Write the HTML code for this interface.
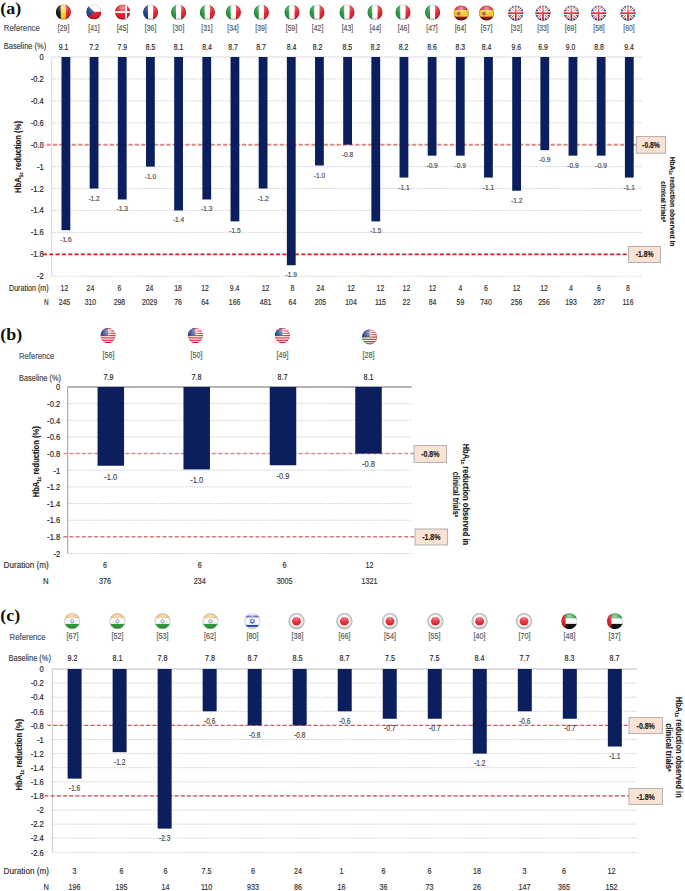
<!DOCTYPE html>
<html><head><meta charset="utf-8"><title>HbA1c reduction</title>
<style>
html,body{margin:0;padding:0;background:#fff;}
body{width:685px;height:891px;overflow:hidden;}
svg{display:block;font-family:"Liberation Sans", sans-serif;}
</style></head><body>
<svg width="685" height="891" viewBox="0 0 685 891">
<defs><radialGradient id="gloss" cx="0.5" cy="0.2" r="0.75"><stop offset="0" stop-color="#fff" stop-opacity="0.55"/><stop offset="0.45" stop-color="#fff" stop-opacity="0.12"/><stop offset="0.8" stop-color="#000" stop-opacity="0"/><stop offset="1" stop-color="#000" stop-opacity="0.18"/></radialGradient>
<clipPath id="c1"><circle cx="63.4" cy="12.1" r="7.6"/></clipPath>
<clipPath id="c2"><circle cx="93.9" cy="11.8" r="7.6"/></clipPath>
<clipPath id="c3"><circle cx="122.6" cy="12.1" r="7.6"/></clipPath>
<clipPath id="c4"><circle cx="150.6" cy="12.3" r="7.6"/></clipPath>
<clipPath id="c5"><circle cx="178.6" cy="12.4" r="7.6"/></clipPath>
<clipPath id="c6"><circle cx="207.4" cy="12.4" r="7.6"/></clipPath>
<clipPath id="c7"><circle cx="233.4" cy="12.4" r="7.6"/></clipPath>
<clipPath id="c8"><circle cx="261.4" cy="12.4" r="7.6"/></clipPath>
<clipPath id="c9"><circle cx="292" cy="12.4" r="7.6"/></clipPath>
<clipPath id="c10"><circle cx="317" cy="12.4" r="7.6"/></clipPath>
<clipPath id="c11"><circle cx="347" cy="12.4" r="7.6"/></clipPath>
<clipPath id="c12"><circle cx="375" cy="12.4" r="7.6"/></clipPath>
<clipPath id="c13"><circle cx="403" cy="12.4" r="7.6"/></clipPath>
<clipPath id="c14"><circle cx="432.6" cy="12.4" r="7.6"/></clipPath>
<clipPath id="c15"><circle cx="461.2" cy="13" r="7.6"/></clipPath>
<clipPath id="c16"><circle cx="486.6" cy="13" r="7.6"/></clipPath>
<clipPath id="c17"><circle cx="515.8" cy="13.2" r="7.6"/></clipPath>
<clipPath id="c18"><circle cx="543" cy="13.2" r="7.6"/></clipPath>
<clipPath id="c19"><circle cx="571.4" cy="13.2" r="7.6"/></clipPath>
<clipPath id="c20"><circle cx="598.6" cy="13.2" r="7.6"/></clipPath>
<clipPath id="c21"><circle cx="628" cy="13.2" r="7.6"/></clipPath>
<clipPath id="c22"><circle cx="108.1" cy="335.6" r="7.6"/></clipPath>
<clipPath id="c23"><circle cx="195.4" cy="335.6" r="7.6"/></clipPath>
<clipPath id="c24"><circle cx="282.4" cy="335.6" r="7.6"/></clipPath>
<clipPath id="c25"><circle cx="369.6" cy="337" r="7.6"/></clipPath>
<clipPath id="c26"><circle cx="72.1" cy="621.2" r="8"/></clipPath>
<clipPath id="c27"><circle cx="117.4" cy="621.2" r="8"/></clipPath>
<clipPath id="c28"><circle cx="162.6" cy="621.2" r="8"/></clipPath>
<clipPath id="c29"><circle cx="210.4" cy="621.2" r="8"/></clipPath>
<clipPath id="c30"><circle cx="252.3" cy="621.2" r="8"/></clipPath>
<clipPath id="c31"><circle cx="296.5" cy="621.2" r="8"/></clipPath>
<clipPath id="c32"><circle cx="344.4" cy="621.2" r="8"/></clipPath>
<clipPath id="c33"><circle cx="390" cy="621.2" r="8"/></clipPath>
<clipPath id="c34"><circle cx="435.4" cy="621.2" r="8"/></clipPath>
<clipPath id="c35"><circle cx="479.6" cy="621.2" r="8"/></clipPath>
<clipPath id="c36"><circle cx="524" cy="621.2" r="8"/></clipPath>
<clipPath id="c37"><circle cx="569.3" cy="621.2" r="8"/></clipPath>
<clipPath id="c38"><circle cx="615" cy="621.2" r="8"/></clipPath></defs>
<rect width="685" height="891" fill="#fff"/>
<text transform="translate(0.3 14.2) scale(1 0.9)" font-family='&quot;Liberation Serif&quot;, serif' font-size="18" font-weight="bold" fill="#111">(a)</text>
<g clip-path="url(#c1)"><rect x="55.8" y="4.5" width="5.07" height="15.2" fill="#1a1a1a"/><rect x="60.87" y="4.5" width="5.07" height="15.2" fill="#f5d31c"/><rect x="65.93" y="4.5" width="5.07" height="15.2" fill="#e3232c"/><circle cx="63.4" cy="12.1" r="7.6" fill="url(#gloss)"/></g><circle cx="63.4" cy="12.1" r="7.2" fill="none" stroke="rgba(0,0,0,0.18)" stroke-width="0.7"/>
<g clip-path="url(#c2)"><rect x="86.3" y="4.2" width="15.2" height="7.6" fill="#ffffff"/><rect x="86.3" y="11.8" width="15.2" height="7.6" fill="#d9202a"/><polygon points="86.3,4.2 94.4,11.8 86.3,19.4" fill="#23478f"/><circle cx="93.9" cy="11.8" r="7.6" fill="url(#gloss)"/></g><circle cx="93.9" cy="11.8" r="7.2" fill="none" stroke="rgba(0,0,0,0.18)" stroke-width="0.7"/>
<g clip-path="url(#c3)"><rect x="115" y="4.5" width="15.2" height="15.2" fill="#e0202a"/><rect x="115" y="11.2" width="15.2" height="1.8" fill="#ffffff"/><rect x="125.2" y="4.5" width="1.8" height="15.2" fill="#ffffff"/><circle cx="122.6" cy="12.1" r="7.6" fill="url(#gloss)"/></g><circle cx="122.6" cy="12.1" r="7.2" fill="none" stroke="rgba(0,0,0,0.18)" stroke-width="0.7"/>
<g clip-path="url(#c4)"><rect x="143" y="4.7" width="5.07" height="15.2" fill="#1f3f9a"/><rect x="148.07" y="4.7" width="5.07" height="15.2" fill="#ffffff"/><rect x="153.13" y="4.7" width="5.07" height="15.2" fill="#e3232c"/><circle cx="150.6" cy="12.3" r="7.6" fill="url(#gloss)"/></g><circle cx="150.6" cy="12.3" r="7.2" fill="none" stroke="rgba(0,0,0,0.18)" stroke-width="0.7"/>
<g clip-path="url(#c5)"><rect x="171" y="4.8" width="5.07" height="15.2" fill="#2a9a44"/><rect x="176.07" y="4.8" width="5.07" height="15.2" fill="#ffffff"/><rect x="181.13" y="4.8" width="5.07" height="15.2" fill="#df2530"/><circle cx="178.6" cy="12.4" r="7.6" fill="url(#gloss)"/></g><circle cx="178.6" cy="12.4" r="7.2" fill="none" stroke="rgba(0,0,0,0.18)" stroke-width="0.7"/>
<g clip-path="url(#c6)"><rect x="199.8" y="4.8" width="5.07" height="15.2" fill="#2a9a44"/><rect x="204.87" y="4.8" width="5.07" height="15.2" fill="#ffffff"/><rect x="209.93" y="4.8" width="5.07" height="15.2" fill="#df2530"/><circle cx="207.4" cy="12.4" r="7.6" fill="url(#gloss)"/></g><circle cx="207.4" cy="12.4" r="7.2" fill="none" stroke="rgba(0,0,0,0.18)" stroke-width="0.7"/>
<g clip-path="url(#c7)"><rect x="225.8" y="4.8" width="5.07" height="15.2" fill="#2a9a44"/><rect x="230.87" y="4.8" width="5.07" height="15.2" fill="#ffffff"/><rect x="235.93" y="4.8" width="5.07" height="15.2" fill="#df2530"/><circle cx="233.4" cy="12.4" r="7.6" fill="url(#gloss)"/></g><circle cx="233.4" cy="12.4" r="7.2" fill="none" stroke="rgba(0,0,0,0.18)" stroke-width="0.7"/>
<g clip-path="url(#c8)"><rect x="253.8" y="4.8" width="5.07" height="15.2" fill="#2a9a44"/><rect x="258.87" y="4.8" width="5.07" height="15.2" fill="#ffffff"/><rect x="263.93" y="4.8" width="5.07" height="15.2" fill="#df2530"/><circle cx="261.4" cy="12.4" r="7.6" fill="url(#gloss)"/></g><circle cx="261.4" cy="12.4" r="7.2" fill="none" stroke="rgba(0,0,0,0.18)" stroke-width="0.7"/>
<g clip-path="url(#c9)"><rect x="284.4" y="4.8" width="5.07" height="15.2" fill="#2a9a44"/><rect x="289.47" y="4.8" width="5.07" height="15.2" fill="#ffffff"/><rect x="294.53" y="4.8" width="5.07" height="15.2" fill="#df2530"/><circle cx="292" cy="12.4" r="7.6" fill="url(#gloss)"/></g><circle cx="292" cy="12.4" r="7.2" fill="none" stroke="rgba(0,0,0,0.18)" stroke-width="0.7"/>
<g clip-path="url(#c10)"><rect x="309.4" y="4.8" width="5.07" height="15.2" fill="#2a9a44"/><rect x="314.47" y="4.8" width="5.07" height="15.2" fill="#ffffff"/><rect x="319.53" y="4.8" width="5.07" height="15.2" fill="#df2530"/><circle cx="317" cy="12.4" r="7.6" fill="url(#gloss)"/></g><circle cx="317" cy="12.4" r="7.2" fill="none" stroke="rgba(0,0,0,0.18)" stroke-width="0.7"/>
<g clip-path="url(#c11)"><rect x="339.4" y="4.8" width="5.07" height="15.2" fill="#2a9a44"/><rect x="344.47" y="4.8" width="5.07" height="15.2" fill="#ffffff"/><rect x="349.53" y="4.8" width="5.07" height="15.2" fill="#df2530"/><circle cx="347" cy="12.4" r="7.6" fill="url(#gloss)"/></g><circle cx="347" cy="12.4" r="7.2" fill="none" stroke="rgba(0,0,0,0.18)" stroke-width="0.7"/>
<g clip-path="url(#c12)"><rect x="367.4" y="4.8" width="5.07" height="15.2" fill="#2a9a44"/><rect x="372.47" y="4.8" width="5.07" height="15.2" fill="#ffffff"/><rect x="377.53" y="4.8" width="5.07" height="15.2" fill="#df2530"/><circle cx="375" cy="12.4" r="7.6" fill="url(#gloss)"/></g><circle cx="375" cy="12.4" r="7.2" fill="none" stroke="rgba(0,0,0,0.18)" stroke-width="0.7"/>
<g clip-path="url(#c13)"><rect x="395.4" y="4.8" width="5.07" height="15.2" fill="#2a9a44"/><rect x="400.47" y="4.8" width="5.07" height="15.2" fill="#ffffff"/><rect x="405.53" y="4.8" width="5.07" height="15.2" fill="#df2530"/><circle cx="403" cy="12.4" r="7.6" fill="url(#gloss)"/></g><circle cx="403" cy="12.4" r="7.2" fill="none" stroke="rgba(0,0,0,0.18)" stroke-width="0.7"/>
<g clip-path="url(#c14)"><rect x="425" y="4.8" width="5.07" height="15.2" fill="#2a9a44"/><rect x="430.07" y="4.8" width="5.07" height="15.2" fill="#ffffff"/><rect x="435.13" y="4.8" width="5.07" height="15.2" fill="#df2530"/><circle cx="432.6" cy="12.4" r="7.6" fill="url(#gloss)"/></g><circle cx="432.6" cy="12.4" r="7.2" fill="none" stroke="rgba(0,0,0,0.18)" stroke-width="0.7"/>
<g clip-path="url(#c15)"><rect x="453.6" y="5.4" width="15.2" height="15.2" fill="#d0202a"/><rect x="453.6" y="9.96" width="15.2" height="6.84" fill="#f2cf2a"/><rect x="453.6" y="16.8" width="15.2" height="3.8" fill="#8a1a1a"/><circle cx="458.7" cy="13.5" r="2" fill="#c8504a"/><circle cx="461.2" cy="13" r="7.6" fill="url(#gloss)"/></g><circle cx="461.2" cy="13" r="7.2" fill="none" stroke="rgba(0,0,0,0.18)" stroke-width="0.7"/>
<g clip-path="url(#c16)"><rect x="479" y="5.4" width="15.2" height="15.2" fill="#d0202a"/><rect x="479" y="9.96" width="15.2" height="6.84" fill="#f2cf2a"/><rect x="479" y="16.8" width="15.2" height="3.8" fill="#8a1a1a"/><circle cx="484.1" cy="13.5" r="2" fill="#c8504a"/><circle cx="486.6" cy="13" r="7.6" fill="url(#gloss)"/></g><circle cx="486.6" cy="13" r="7.2" fill="none" stroke="rgba(0,0,0,0.18)" stroke-width="0.7"/>
<g clip-path="url(#c17)"><rect x="508.2" y="5.6" width="15.2" height="15.2" fill="#25408f"/><path d="M508.2 5.6L523.4 20.8M523.4 5.6L508.2 20.8" stroke="#ffffff" stroke-width="3"/><path d="M508.2 5.6L523.4 20.8M523.4 5.6L508.2 20.8" stroke="#d9202a" stroke-width="1"/><rect x="513.8" y="5.6" width="4" height="15.2" fill="#ffffff"/><rect x="508.2" y="11.2" width="15.2" height="4" fill="#ffffff"/><rect x="514.95" y="5.6" width="1.7" height="15.2" fill="#d9202a"/><rect x="508.2" y="12.35" width="15.2" height="1.7" fill="#d9202a"/><circle cx="515.8" cy="13.2" r="7.6" fill="url(#gloss)"/></g><circle cx="515.8" cy="13.2" r="7.2" fill="none" stroke="rgba(0,0,0,0.18)" stroke-width="0.7"/>
<g clip-path="url(#c18)"><rect x="535.4" y="5.6" width="15.2" height="15.2" fill="#25408f"/><path d="M535.4 5.6L550.6 20.8M550.6 5.6L535.4 20.8" stroke="#ffffff" stroke-width="3"/><path d="M535.4 5.6L550.6 20.8M550.6 5.6L535.4 20.8" stroke="#d9202a" stroke-width="1"/><rect x="541" y="5.6" width="4" height="15.2" fill="#ffffff"/><rect x="535.4" y="11.2" width="15.2" height="4" fill="#ffffff"/><rect x="542.15" y="5.6" width="1.7" height="15.2" fill="#d9202a"/><rect x="535.4" y="12.35" width="15.2" height="1.7" fill="#d9202a"/><circle cx="543" cy="13.2" r="7.6" fill="url(#gloss)"/></g><circle cx="543" cy="13.2" r="7.2" fill="none" stroke="rgba(0,0,0,0.18)" stroke-width="0.7"/>
<g clip-path="url(#c19)"><rect x="563.8" y="5.6" width="15.2" height="15.2" fill="#25408f"/><path d="M563.8 5.6L579 20.8M579 5.6L563.8 20.8" stroke="#ffffff" stroke-width="3"/><path d="M563.8 5.6L579 20.8M579 5.6L563.8 20.8" stroke="#d9202a" stroke-width="1"/><rect x="569.4" y="5.6" width="4" height="15.2" fill="#ffffff"/><rect x="563.8" y="11.2" width="15.2" height="4" fill="#ffffff"/><rect x="570.55" y="5.6" width="1.7" height="15.2" fill="#d9202a"/><rect x="563.8" y="12.35" width="15.2" height="1.7" fill="#d9202a"/><circle cx="571.4" cy="13.2" r="7.6" fill="url(#gloss)"/></g><circle cx="571.4" cy="13.2" r="7.2" fill="none" stroke="rgba(0,0,0,0.18)" stroke-width="0.7"/>
<g clip-path="url(#c20)"><rect x="591" y="5.6" width="15.2" height="15.2" fill="#25408f"/><path d="M591 5.6L606.2 20.8M606.2 5.6L591 20.8" stroke="#ffffff" stroke-width="3"/><path d="M591 5.6L606.2 20.8M606.2 5.6L591 20.8" stroke="#d9202a" stroke-width="1"/><rect x="596.6" y="5.6" width="4" height="15.2" fill="#ffffff"/><rect x="591" y="11.2" width="15.2" height="4" fill="#ffffff"/><rect x="597.75" y="5.6" width="1.7" height="15.2" fill="#d9202a"/><rect x="591" y="12.35" width="15.2" height="1.7" fill="#d9202a"/><circle cx="598.6" cy="13.2" r="7.6" fill="url(#gloss)"/></g><circle cx="598.6" cy="13.2" r="7.2" fill="none" stroke="rgba(0,0,0,0.18)" stroke-width="0.7"/>
<g clip-path="url(#c21)"><rect x="620.4" y="5.6" width="15.2" height="15.2" fill="#25408f"/><path d="M620.4 5.6L635.6 20.8M635.6 5.6L620.4 20.8" stroke="#ffffff" stroke-width="3"/><path d="M620.4 5.6L635.6 20.8M635.6 5.6L620.4 20.8" stroke="#d9202a" stroke-width="1"/><rect x="626" y="5.6" width="4" height="15.2" fill="#ffffff"/><rect x="620.4" y="11.2" width="15.2" height="4" fill="#ffffff"/><rect x="627.15" y="5.6" width="1.7" height="15.2" fill="#d9202a"/><rect x="620.4" y="12.35" width="15.2" height="1.7" fill="#d9202a"/><circle cx="628" cy="13.2" r="7.6" fill="url(#gloss)"/></g><circle cx="628" cy="13.2" r="7.2" fill="none" stroke="rgba(0,0,0,0.18)" stroke-width="0.7"/>
<text transform="translate(3.8 30.99) scale(1 1.15)" font-size="7.5" text-anchor="start" fill="#44546a" font-weight="normal" textLength="36" lengthAdjust="spacingAndGlyphs" stroke="#44546a" stroke-width="0.15">Reference</text>
<text transform="translate(63.6 30.69) scale(0.92 1.15)" font-size="7.5" text-anchor="middle" fill="#595959" font-weight="normal" stroke="#595959" stroke-width="0.15">[29]</text>
<text transform="translate(94 30.69) scale(0.92 1.15)" font-size="7.5" text-anchor="middle" fill="#595959" font-weight="normal" stroke="#595959" stroke-width="0.15">[41]</text>
<text transform="translate(122.4 30.69) scale(0.92 1.15)" font-size="7.5" text-anchor="middle" fill="#595959" font-weight="normal" stroke="#595959" stroke-width="0.15">[45]</text>
<text transform="translate(150.6 30.69) scale(0.92 1.15)" font-size="7.5" text-anchor="middle" fill="#595959" font-weight="normal" stroke="#595959" stroke-width="0.15">[36]</text>
<text transform="translate(178.6 30.69) scale(0.92 1.15)" font-size="7.5" text-anchor="middle" fill="#595959" font-weight="normal" stroke="#595959" stroke-width="0.15">[30]</text>
<text transform="translate(207 30.69) scale(0.92 1.15)" font-size="7.5" text-anchor="middle" fill="#595959" font-weight="normal" stroke="#595959" stroke-width="0.15">[31]</text>
<text transform="translate(233 30.69) scale(0.92 1.15)" font-size="7.5" text-anchor="middle" fill="#595959" font-weight="normal" stroke="#595959" stroke-width="0.15">[34]</text>
<text transform="translate(261 30.69) scale(0.92 1.15)" font-size="7.5" text-anchor="middle" fill="#595959" font-weight="normal" stroke="#595959" stroke-width="0.15">[39]</text>
<text transform="translate(291.6 30.69) scale(0.92 1.15)" font-size="7.5" text-anchor="middle" fill="#595959" font-weight="normal" stroke="#595959" stroke-width="0.15">[59]</text>
<text transform="translate(317.6 30.69) scale(0.92 1.15)" font-size="7.5" text-anchor="middle" fill="#595959" font-weight="normal" stroke="#595959" stroke-width="0.15">[42]</text>
<text transform="translate(347.4 30.69) scale(0.92 1.15)" font-size="7.5" text-anchor="middle" fill="#595959" font-weight="normal" stroke="#595959" stroke-width="0.15">[43]</text>
<text transform="translate(375.4 30.69) scale(0.92 1.15)" font-size="7.5" text-anchor="middle" fill="#595959" font-weight="normal" stroke="#595959" stroke-width="0.15">[44]</text>
<text transform="translate(403.6 30.69) scale(0.92 1.15)" font-size="7.5" text-anchor="middle" fill="#595959" font-weight="normal" stroke="#595959" stroke-width="0.15">[46]</text>
<text transform="translate(432 30.69) scale(0.92 1.15)" font-size="7.5" text-anchor="middle" fill="#595959" font-weight="normal" stroke="#595959" stroke-width="0.15">[47]</text>
<text transform="translate(460.4 30.69) scale(0.92 1.15)" font-size="7.5" text-anchor="middle" fill="#595959" font-weight="normal" stroke="#595959" stroke-width="0.15">[64]</text>
<text transform="translate(486.6 30.69) scale(0.92 1.15)" font-size="7.5" text-anchor="middle" fill="#595959" font-weight="normal" stroke="#595959" stroke-width="0.15">[57]</text>
<text transform="translate(516.4 30.69) scale(0.92 1.15)" font-size="7.5" text-anchor="middle" fill="#595959" font-weight="normal" stroke="#595959" stroke-width="0.15">[32]</text>
<text transform="translate(543 30.69) scale(0.92 1.15)" font-size="7.5" text-anchor="middle" fill="#595959" font-weight="normal" stroke="#595959" stroke-width="0.15">[33]</text>
<text transform="translate(570.6 30.69) scale(0.92 1.15)" font-size="7.5" text-anchor="middle" fill="#595959" font-weight="normal" stroke="#595959" stroke-width="0.15">[69]</text>
<text transform="translate(599 30.69) scale(0.92 1.15)" font-size="7.5" text-anchor="middle" fill="#595959" font-weight="normal" stroke="#595959" stroke-width="0.15">[58]</text>
<text transform="translate(629 30.69) scale(0.92 1.15)" font-size="7.5" text-anchor="middle" fill="#595959" font-weight="normal" stroke="#595959" stroke-width="0.15">[60]</text>
<text transform="translate(3.8 49.19) scale(1 1.15)" font-size="7.5" text-anchor="start" fill="#3f3f3f" font-weight="normal" textLength="42.4" lengthAdjust="spacingAndGlyphs" stroke="#3f3f3f" stroke-width="0.15">Baseline (%)</text>
<text transform="translate(63.6 49.79) scale(0.92 1.15)" font-size="7.5" text-anchor="middle" fill="#2a2a2a" font-weight="normal" stroke="#2a2a2a" stroke-width="0.15">9.1</text>
<text transform="translate(94 49.79) scale(0.92 1.15)" font-size="7.5" text-anchor="middle" fill="#2a2a2a" font-weight="normal" stroke="#2a2a2a" stroke-width="0.15">7.2</text>
<text transform="translate(122.4 49.79) scale(0.92 1.15)" font-size="7.5" text-anchor="middle" fill="#2a2a2a" font-weight="normal" stroke="#2a2a2a" stroke-width="0.15">7.9</text>
<text transform="translate(150.6 49.79) scale(0.92 1.15)" font-size="7.5" text-anchor="middle" fill="#2a2a2a" font-weight="normal" stroke="#2a2a2a" stroke-width="0.15">8.5</text>
<text transform="translate(178.6 49.79) scale(0.92 1.15)" font-size="7.5" text-anchor="middle" fill="#2a2a2a" font-weight="normal" stroke="#2a2a2a" stroke-width="0.15">8.1</text>
<text transform="translate(207 49.79) scale(0.92 1.15)" font-size="7.5" text-anchor="middle" fill="#2a2a2a" font-weight="normal" stroke="#2a2a2a" stroke-width="0.15">8.4</text>
<text transform="translate(233 49.79) scale(0.92 1.15)" font-size="7.5" text-anchor="middle" fill="#2a2a2a" font-weight="normal" stroke="#2a2a2a" stroke-width="0.15">8.7</text>
<text transform="translate(261 49.79) scale(0.92 1.15)" font-size="7.5" text-anchor="middle" fill="#2a2a2a" font-weight="normal" stroke="#2a2a2a" stroke-width="0.15">8.7</text>
<text transform="translate(291.6 49.79) scale(0.92 1.15)" font-size="7.5" text-anchor="middle" fill="#2a2a2a" font-weight="normal" stroke="#2a2a2a" stroke-width="0.15">8.4</text>
<text transform="translate(317.6 49.79) scale(0.92 1.15)" font-size="7.5" text-anchor="middle" fill="#2a2a2a" font-weight="normal" stroke="#2a2a2a" stroke-width="0.15">8.2</text>
<text transform="translate(347.4 49.79) scale(0.92 1.15)" font-size="7.5" text-anchor="middle" fill="#2a2a2a" font-weight="normal" stroke="#2a2a2a" stroke-width="0.15">8.5</text>
<text transform="translate(375.4 49.79) scale(0.92 1.15)" font-size="7.5" text-anchor="middle" fill="#2a2a2a" font-weight="normal" stroke="#2a2a2a" stroke-width="0.15">8.2</text>
<text transform="translate(403.6 49.79) scale(0.92 1.15)" font-size="7.5" text-anchor="middle" fill="#2a2a2a" font-weight="normal" stroke="#2a2a2a" stroke-width="0.15">8.2</text>
<text transform="translate(432 49.79) scale(0.92 1.15)" font-size="7.5" text-anchor="middle" fill="#2a2a2a" font-weight="normal" stroke="#2a2a2a" stroke-width="0.15">8.6</text>
<text transform="translate(460.4 49.79) scale(0.92 1.15)" font-size="7.5" text-anchor="middle" fill="#2a2a2a" font-weight="normal" stroke="#2a2a2a" stroke-width="0.15">8.3</text>
<text transform="translate(486.6 49.79) scale(0.92 1.15)" font-size="7.5" text-anchor="middle" fill="#2a2a2a" font-weight="normal" stroke="#2a2a2a" stroke-width="0.15">8.4</text>
<text transform="translate(516.4 49.79) scale(0.92 1.15)" font-size="7.5" text-anchor="middle" fill="#2a2a2a" font-weight="normal" stroke="#2a2a2a" stroke-width="0.15">9.6</text>
<text transform="translate(543 49.79) scale(0.92 1.15)" font-size="7.5" text-anchor="middle" fill="#2a2a2a" font-weight="normal" stroke="#2a2a2a" stroke-width="0.15">6.9</text>
<text transform="translate(570.6 49.79) scale(0.92 1.15)" font-size="7.5" text-anchor="middle" fill="#2a2a2a" font-weight="normal" stroke="#2a2a2a" stroke-width="0.15">9.0</text>
<text transform="translate(599 49.79) scale(0.92 1.15)" font-size="7.5" text-anchor="middle" fill="#2a2a2a" font-weight="normal" stroke="#2a2a2a" stroke-width="0.15">8.8</text>
<text transform="translate(629 49.79) scale(0.92 1.15)" font-size="7.5" text-anchor="middle" fill="#2a2a2a" font-weight="normal" stroke="#2a2a2a" stroke-width="0.15">9.4</text>
<line x1="51.7" y1="78.92" x2="642.4" y2="78.92" stroke="#c4c4c4" stroke-width="0.8" stroke-dasharray="1.6 1.2"/>
<line x1="51.7" y1="100.84" x2="642.4" y2="100.84" stroke="#c4c4c4" stroke-width="0.8" stroke-dasharray="1.6 1.2"/>
<line x1="51.7" y1="122.76" x2="642.4" y2="122.76" stroke="#c4c4c4" stroke-width="0.8" stroke-dasharray="1.6 1.2"/>
<line x1="51.7" y1="144.68" x2="642.4" y2="144.68" stroke="#c4c4c4" stroke-width="0.8" stroke-dasharray="1.6 1.2"/>
<line x1="51.7" y1="166.6" x2="642.4" y2="166.6" stroke="#c4c4c4" stroke-width="0.8" stroke-dasharray="1.6 1.2"/>
<line x1="51.7" y1="188.52" x2="642.4" y2="188.52" stroke="#c4c4c4" stroke-width="0.8" stroke-dasharray="1.6 1.2"/>
<line x1="51.7" y1="210.44" x2="642.4" y2="210.44" stroke="#c4c4c4" stroke-width="0.8" stroke-dasharray="1.6 1.2"/>
<line x1="51.7" y1="232.36" x2="642.4" y2="232.36" stroke="#c4c4c4" stroke-width="0.8" stroke-dasharray="1.6 1.2"/>
<line x1="51.7" y1="254.28" x2="642.4" y2="254.28" stroke="#c4c4c4" stroke-width="0.8" stroke-dasharray="1.6 1.2"/>
<line x1="51.7" y1="276.2" x2="642.4" y2="276.2" stroke="#c4c4c4" stroke-width="0.8" stroke-dasharray="1.6 1.2"/>
<line x1="51.7" y1="57" x2="642.4" y2="57" stroke="#dcdcdc" stroke-width="1.1"/>
<line x1="51.7" y1="57" x2="51.7" y2="276.2" stroke="#d9d9d9" stroke-width="1"/>
<text transform="translate(43.8 59.63) scale(1 1.15)" font-size="7.6" text-anchor="end" fill="#262626" font-weight="normal" stroke="#262626" stroke-width="0.15">0</text>
<text transform="translate(43.8 81.95) scale(1 1.15)" font-size="7.6" text-anchor="end" fill="#262626" font-weight="normal" stroke="#262626" stroke-width="0.15">-0.2</text>
<text transform="translate(43.8 103.87) scale(1 1.15)" font-size="7.6" text-anchor="end" fill="#262626" font-weight="normal" stroke="#262626" stroke-width="0.15">-0.4</text>
<text transform="translate(43.8 125.79) scale(1 1.15)" font-size="7.6" text-anchor="end" fill="#262626" font-weight="normal" stroke="#262626" stroke-width="0.15">-0.6</text>
<text transform="translate(43.8 147.71) scale(1 1.15)" font-size="7.6" text-anchor="end" fill="#262626" font-weight="normal" stroke="#262626" stroke-width="0.15">-0.8</text>
<text transform="translate(43.8 169.63) scale(1 1.15)" font-size="7.6" text-anchor="end" fill="#262626" font-weight="normal" stroke="#262626" stroke-width="0.15">-1</text>
<text transform="translate(43.8 191.55) scale(1 1.15)" font-size="7.6" text-anchor="end" fill="#262626" font-weight="normal" stroke="#262626" stroke-width="0.15">-1.2</text>
<text transform="translate(43.8 213.47) scale(1 1.15)" font-size="7.6" text-anchor="end" fill="#262626" font-weight="normal" stroke="#262626" stroke-width="0.15">-1.4</text>
<text transform="translate(43.8 235.39) scale(1 1.15)" font-size="7.6" text-anchor="end" fill="#262626" font-weight="normal" stroke="#262626" stroke-width="0.15">-1.6</text>
<text transform="translate(43.8 257.31) scale(1 1.15)" font-size="7.6" text-anchor="end" fill="#262626" font-weight="normal" stroke="#262626" stroke-width="0.15">-1.8</text>
<text transform="translate(43.8 279.23) scale(1 1.15)" font-size="7.6" text-anchor="end" fill="#262626" font-weight="normal" stroke="#262626" stroke-width="0.15">-2</text>
<line x1="40.5" y1="144.68" x2="636.4" y2="144.68" stroke="#dc8a80" stroke-width="1.9" stroke-dasharray="3.9 2.4"/>
<line x1="43.1" y1="254.28" x2="628.6" y2="254.28" stroke="#c8232b" stroke-width="1.8" stroke-dasharray="3.9 2.4"/>
<rect x="61.5" y="57" width="8.8" height="173.17" fill="#0b1f5e"/>
<text transform="translate(65.9 242.17) scale(0.97 1.15)" font-size="6.8" text-anchor="middle" fill="#4a4a4a" font-weight="normal" stroke="#4a4a4a" stroke-width="0.15">-1.6</text>
<rect x="89.67" y="57" width="8.8" height="131.52" fill="#0b1f5e"/>
<text transform="translate(94.07 200.52) scale(0.97 1.15)" font-size="6.8" text-anchor="middle" fill="#4a4a4a" font-weight="normal" stroke="#4a4a4a" stroke-width="0.15">-1.2</text>
<rect x="117.84" y="57" width="8.8" height="142.48" fill="#0b1f5e"/>
<text transform="translate(122.24 211.48) scale(0.97 1.15)" font-size="6.8" text-anchor="middle" fill="#4a4a4a" font-weight="normal" stroke="#4a4a4a" stroke-width="0.15">-1.3</text>
<rect x="146.01" y="57" width="8.8" height="109.6" fill="#0b1f5e"/>
<text transform="translate(150.41 178.6) scale(0.97 1.15)" font-size="6.8" text-anchor="middle" fill="#4a4a4a" font-weight="normal" stroke="#4a4a4a" stroke-width="0.15">-1.0</text>
<rect x="174.18" y="57" width="8.8" height="153.44" fill="#0b1f5e"/>
<text transform="translate(178.58 222.44) scale(0.97 1.15)" font-size="6.8" text-anchor="middle" fill="#4a4a4a" font-weight="normal" stroke="#4a4a4a" stroke-width="0.15">-1.4</text>
<rect x="202.35" y="57" width="8.8" height="142.48" fill="#0b1f5e"/>
<text transform="translate(206.75 211.48) scale(0.97 1.15)" font-size="6.8" text-anchor="middle" fill="#4a4a4a" font-weight="normal" stroke="#4a4a4a" stroke-width="0.15">-1.3</text>
<rect x="230.52" y="57" width="8.8" height="164.4" fill="#0b1f5e"/>
<text transform="translate(234.92 233.4) scale(0.97 1.15)" font-size="6.8" text-anchor="middle" fill="#4a4a4a" font-weight="normal" stroke="#4a4a4a" stroke-width="0.15">-1.5</text>
<rect x="258.69" y="57" width="8.8" height="131.52" fill="#0b1f5e"/>
<text transform="translate(263.09 200.52) scale(0.97 1.15)" font-size="6.8" text-anchor="middle" fill="#4a4a4a" font-weight="normal" stroke="#4a4a4a" stroke-width="0.15">-1.2</text>
<rect x="286.86" y="57" width="8.8" height="208.24" fill="#0b1f5e"/>
<text transform="translate(291.26 277.24) scale(0.97 1.15)" font-size="6.8" text-anchor="middle" fill="#4a4a4a" font-weight="normal" stroke="#4a4a4a" stroke-width="0.15">-1.9</text>
<rect x="315.03" y="57" width="8.8" height="108.5" fill="#0b1f5e"/>
<text transform="translate(319.43 177.5) scale(0.97 1.15)" font-size="6.8" text-anchor="middle" fill="#4a4a4a" font-weight="normal" stroke="#4a4a4a" stroke-width="0.15">-1.0</text>
<rect x="343.2" y="57" width="8.8" height="87.68" fill="#0b1f5e"/>
<text transform="translate(347.6 156.68) scale(0.97 1.15)" font-size="6.8" text-anchor="middle" fill="#4a4a4a" font-weight="normal" stroke="#4a4a4a" stroke-width="0.15">-0.8</text>
<rect x="371.37" y="57" width="8.8" height="164.4" fill="#0b1f5e"/>
<text transform="translate(375.77 233.4) scale(0.97 1.15)" font-size="6.8" text-anchor="middle" fill="#4a4a4a" font-weight="normal" stroke="#4a4a4a" stroke-width="0.15">-1.5</text>
<rect x="399.54" y="57" width="8.8" height="120.56" fill="#0b1f5e"/>
<text transform="translate(403.94 189.56) scale(0.97 1.15)" font-size="6.8" text-anchor="middle" fill="#4a4a4a" font-weight="normal" stroke="#4a4a4a" stroke-width="0.15">-1.1</text>
<rect x="427.71" y="57" width="8.8" height="98.64" fill="#0b1f5e"/>
<text transform="translate(432.11 167.64) scale(0.97 1.15)" font-size="6.8" text-anchor="middle" fill="#4a4a4a" font-weight="normal" stroke="#4a4a4a" stroke-width="0.15">-0.9</text>
<rect x="455.88" y="57" width="8.8" height="98.64" fill="#0b1f5e"/>
<text transform="translate(460.28 167.64) scale(0.97 1.15)" font-size="6.8" text-anchor="middle" fill="#4a4a4a" font-weight="normal" stroke="#4a4a4a" stroke-width="0.15">-0.9</text>
<rect x="484.05" y="57" width="8.8" height="120.56" fill="#0b1f5e"/>
<text transform="translate(488.45 189.56) scale(0.97 1.15)" font-size="6.8" text-anchor="middle" fill="#4a4a4a" font-weight="normal" stroke="#4a4a4a" stroke-width="0.15">-1.1</text>
<rect x="512.22" y="57" width="8.8" height="133.71" fill="#0b1f5e"/>
<text transform="translate(516.62 202.71) scale(0.97 1.15)" font-size="6.8" text-anchor="middle" fill="#4a4a4a" font-weight="normal" stroke="#4a4a4a" stroke-width="0.15">-1.2</text>
<rect x="540.39" y="57" width="8.8" height="93.16" fill="#0b1f5e"/>
<text transform="translate(544.79 162.16) scale(0.97 1.15)" font-size="6.8" text-anchor="middle" fill="#4a4a4a" font-weight="normal" stroke="#4a4a4a" stroke-width="0.15">-0.9</text>
<rect x="568.56" y="57" width="8.8" height="98.64" fill="#0b1f5e"/>
<text transform="translate(572.96 167.64) scale(0.97 1.15)" font-size="6.8" text-anchor="middle" fill="#4a4a4a" font-weight="normal" stroke="#4a4a4a" stroke-width="0.15">-0.9</text>
<rect x="596.73" y="57" width="8.8" height="98.64" fill="#0b1f5e"/>
<text transform="translate(601.13 167.64) scale(0.97 1.15)" font-size="6.8" text-anchor="middle" fill="#4a4a4a" font-weight="normal" stroke="#4a4a4a" stroke-width="0.15">-0.9</text>
<rect x="624.9" y="57" width="8.8" height="120.56" fill="#0b1f5e"/>
<text transform="translate(629.3 189.56) scale(0.97 1.15)" font-size="6.8" text-anchor="middle" fill="#4a4a4a" font-weight="normal" stroke="#4a4a4a" stroke-width="0.15">-1.1</text>
<rect x="636.4" y="136.6" width="29.2" height="16.6" fill="#fbe3d3" stroke="#a8a8a8" stroke-width="0.9"/>
<text transform="translate(651 147.95) scale(0.92 1.15)" font-size="7.4" text-anchor="middle" fill="#1a1a1a" font-weight="bold" stroke="#1a1a1a" stroke-width="0.15">-0.8%</text>
<rect x="628.6" y="246.4" width="32" height="16" fill="#fbe3d3" stroke="#a8a8a8" stroke-width="0.9"/>
<text transform="translate(644.6 257.45) scale(0.92 1.15)" font-size="7.4" text-anchor="middle" fill="#1a1a1a" font-weight="bold" stroke="#1a1a1a" stroke-width="0.15">-1.8%</text>
<text transform="translate(18.2 157) rotate(-90)" x="0" y="2.94" font-size="8.2" font-weight="bold" fill="#1a1a1a" stroke="#1a1a1a" stroke-width="0.15" text-anchor="middle" textLength="72" lengthAdjust="spacingAndGlyphs">HbA<tspan font-size="4.92" dy="1.5">1c</tspan><tspan dy="-1.5"> reduction (%)</tspan></text>
<text transform="translate(673 201.5) rotate(90)" x="0" y="2.72" font-size="7.6" font-weight="bold" fill="#1a1a1a" stroke="#1a1a1a" stroke-width="0.15" text-anchor="middle" textLength="89.7" lengthAdjust="spacingAndGlyphs">HbA<tspan font-size="4.56" dy="1.5">1c</tspan><tspan dy="-1.5"> reduction observed in</tspan></text>
<text transform="translate(663.6 201.5) rotate(90)" x="0" y="2.72" font-size="7.6" font-weight="bold" fill="#1a1a1a" stroke="#1a1a1a" stroke-width="0.15" text-anchor="middle" textLength="41" lengthAdjust="spacingAndGlyphs">clinical trials<tspan font-size="4.56" dy="-2.5">a</tspan></text>
<text transform="translate(9 290.69) scale(1 1.15)" font-size="7.5" text-anchor="start" fill="#333333" font-weight="normal" textLength="39.6" lengthAdjust="spacingAndGlyphs" stroke="#333333" stroke-width="0.15">Duration (m)</text>
<text transform="translate(64.4 290.69) scale(0.92 1.15)" font-size="7.5" text-anchor="middle" fill="#333333" font-weight="normal" stroke="#333333" stroke-width="0.15">12</text>
<text transform="translate(90.4 290.69) scale(0.92 1.15)" font-size="7.5" text-anchor="middle" fill="#333333" font-weight="normal" stroke="#333333" stroke-width="0.15">24</text>
<text transform="translate(119.4 290.69) scale(0.92 1.15)" font-size="7.5" text-anchor="middle" fill="#333333" font-weight="normal" stroke="#333333" stroke-width="0.15">6</text>
<text transform="translate(149.6 290.69) scale(0.92 1.15)" font-size="7.5" text-anchor="middle" fill="#333333" font-weight="normal" stroke="#333333" stroke-width="0.15">24</text>
<text transform="translate(178 290.69) scale(0.92 1.15)" font-size="7.5" text-anchor="middle" fill="#333333" font-weight="normal" stroke="#333333" stroke-width="0.15">18</text>
<text transform="translate(205 290.69) scale(0.92 1.15)" font-size="7.5" text-anchor="middle" fill="#333333" font-weight="normal" stroke="#333333" stroke-width="0.15">12</text>
<text transform="translate(234.6 290.69) scale(0.92 1.15)" font-size="7.5" text-anchor="middle" fill="#333333" font-weight="normal" stroke="#333333" stroke-width="0.15">9.4</text>
<text transform="translate(265.6 290.69) scale(0.92 1.15)" font-size="7.5" text-anchor="middle" fill="#333333" font-weight="normal" stroke="#333333" stroke-width="0.15">12</text>
<text transform="translate(292.4 290.69) scale(0.92 1.15)" font-size="7.5" text-anchor="middle" fill="#333333" font-weight="normal" stroke="#333333" stroke-width="0.15">8</text>
<text transform="translate(320.4 290.69) scale(0.92 1.15)" font-size="7.5" text-anchor="middle" fill="#333333" font-weight="normal" stroke="#333333" stroke-width="0.15">24</text>
<text transform="translate(351 290.69) scale(0.92 1.15)" font-size="7.5" text-anchor="middle" fill="#333333" font-weight="normal" stroke="#333333" stroke-width="0.15">12</text>
<text transform="translate(380.4 290.69) scale(0.92 1.15)" font-size="7.5" text-anchor="middle" fill="#333333" font-weight="normal" stroke="#333333" stroke-width="0.15">12</text>
<text transform="translate(406.4 290.69) scale(0.92 1.15)" font-size="7.5" text-anchor="middle" fill="#333333" font-weight="normal" stroke="#333333" stroke-width="0.15">12</text>
<text transform="translate(432.6 290.69) scale(0.92 1.15)" font-size="7.5" text-anchor="middle" fill="#333333" font-weight="normal" stroke="#333333" stroke-width="0.15">12</text>
<text transform="translate(460.4 290.69) scale(0.92 1.15)" font-size="7.5" text-anchor="middle" fill="#333333" font-weight="normal" stroke="#333333" stroke-width="0.15">4</text>
<text transform="translate(486 290.69) scale(0.92 1.15)" font-size="7.5" text-anchor="middle" fill="#333333" font-weight="normal" stroke="#333333" stroke-width="0.15">6</text>
<text transform="translate(516.6 290.69) scale(0.92 1.15)" font-size="7.5" text-anchor="middle" fill="#333333" font-weight="normal" stroke="#333333" stroke-width="0.15">12</text>
<text transform="translate(544 290.69) scale(0.92 1.15)" font-size="7.5" text-anchor="middle" fill="#333333" font-weight="normal" stroke="#333333" stroke-width="0.15">12</text>
<text transform="translate(571 290.69) scale(0.92 1.15)" font-size="7.5" text-anchor="middle" fill="#333333" font-weight="normal" stroke="#333333" stroke-width="0.15">4</text>
<text transform="translate(599 290.69) scale(0.92 1.15)" font-size="7.5" text-anchor="middle" fill="#333333" font-weight="normal" stroke="#333333" stroke-width="0.15">6</text>
<text transform="translate(628 290.69) scale(0.92 1.15)" font-size="7.5" text-anchor="middle" fill="#333333" font-weight="normal" stroke="#333333" stroke-width="0.15">8</text>
<text transform="translate(44 305.49) scale(1 1.15)" font-size="7.5" text-anchor="start" fill="#333333" font-weight="normal" textLength="4.6" lengthAdjust="spacingAndGlyphs" stroke="#333333" stroke-width="0.15">N</text>
<text transform="translate(64.4 305.49) scale(0.92 1.15)" font-size="7.5" text-anchor="middle" fill="#333333" font-weight="normal" stroke="#333333" stroke-width="0.15">245</text>
<text transform="translate(90.4 305.49) scale(0.92 1.15)" font-size="7.5" text-anchor="middle" fill="#333333" font-weight="normal" stroke="#333333" stroke-width="0.15">310</text>
<text transform="translate(119.4 305.49) scale(0.92 1.15)" font-size="7.5" text-anchor="middle" fill="#333333" font-weight="normal" stroke="#333333" stroke-width="0.15">298</text>
<text transform="translate(149.6 305.49) scale(0.92 1.15)" font-size="7.5" text-anchor="middle" fill="#333333" font-weight="normal" stroke="#333333" stroke-width="0.15">2029</text>
<text transform="translate(178 305.49) scale(0.92 1.15)" font-size="7.5" text-anchor="middle" fill="#333333" font-weight="normal" stroke="#333333" stroke-width="0.15">76</text>
<text transform="translate(205 305.49) scale(0.92 1.15)" font-size="7.5" text-anchor="middle" fill="#333333" font-weight="normal" stroke="#333333" stroke-width="0.15">64</text>
<text transform="translate(234.6 305.49) scale(0.92 1.15)" font-size="7.5" text-anchor="middle" fill="#333333" font-weight="normal" stroke="#333333" stroke-width="0.15">166</text>
<text transform="translate(265.6 305.49) scale(0.92 1.15)" font-size="7.5" text-anchor="middle" fill="#333333" font-weight="normal" stroke="#333333" stroke-width="0.15">481</text>
<text transform="translate(292.4 305.49) scale(0.92 1.15)" font-size="7.5" text-anchor="middle" fill="#333333" font-weight="normal" stroke="#333333" stroke-width="0.15">64</text>
<text transform="translate(320.4 305.49) scale(0.92 1.15)" font-size="7.5" text-anchor="middle" fill="#333333" font-weight="normal" stroke="#333333" stroke-width="0.15">205</text>
<text transform="translate(351 305.49) scale(0.92 1.15)" font-size="7.5" text-anchor="middle" fill="#333333" font-weight="normal" stroke="#333333" stroke-width="0.15">104</text>
<text transform="translate(380.4 305.49) scale(0.92 1.15)" font-size="7.5" text-anchor="middle" fill="#333333" font-weight="normal" stroke="#333333" stroke-width="0.15">115</text>
<text transform="translate(406.4 305.49) scale(0.92 1.15)" font-size="7.5" text-anchor="middle" fill="#333333" font-weight="normal" stroke="#333333" stroke-width="0.15">22</text>
<text transform="translate(432.6 305.49) scale(0.92 1.15)" font-size="7.5" text-anchor="middle" fill="#333333" font-weight="normal" stroke="#333333" stroke-width="0.15">84</text>
<text transform="translate(460.4 305.49) scale(0.92 1.15)" font-size="7.5" text-anchor="middle" fill="#333333" font-weight="normal" stroke="#333333" stroke-width="0.15">59</text>
<text transform="translate(486 305.49) scale(0.92 1.15)" font-size="7.5" text-anchor="middle" fill="#333333" font-weight="normal" stroke="#333333" stroke-width="0.15">740</text>
<text transform="translate(516.6 305.49) scale(0.92 1.15)" font-size="7.5" text-anchor="middle" fill="#333333" font-weight="normal" stroke="#333333" stroke-width="0.15">256</text>
<text transform="translate(544 305.49) scale(0.92 1.15)" font-size="7.5" text-anchor="middle" fill="#333333" font-weight="normal" stroke="#333333" stroke-width="0.15">256</text>
<text transform="translate(571 305.49) scale(0.92 1.15)" font-size="7.5" text-anchor="middle" fill="#333333" font-weight="normal" stroke="#333333" stroke-width="0.15">193</text>
<text transform="translate(599 305.49) scale(0.92 1.15)" font-size="7.5" text-anchor="middle" fill="#333333" font-weight="normal" stroke="#333333" stroke-width="0.15">287</text>
<text transform="translate(628 305.49) scale(0.92 1.15)" font-size="7.5" text-anchor="middle" fill="#333333" font-weight="normal" stroke="#333333" stroke-width="0.15">116</text>
<text transform="translate(0.3 340.2) scale(1 0.9)" font-family='&quot;Liberation Serif&quot;, serif' font-size="18" font-weight="bold" fill="#111">(b)</text>
<g clip-path="url(#c22)"><rect x="100.5" y="328" width="15.2" height="1.17" fill="#d9303a"/><rect x="100.5" y="330.34" width="15.2" height="1.17" fill="#d9303a"/><rect x="100.5" y="332.68" width="15.2" height="1.17" fill="#d9303a"/><rect x="100.5" y="335.02" width="15.2" height="1.17" fill="#d9303a"/><rect x="100.5" y="337.35" width="15.2" height="1.17" fill="#d9303a"/><rect x="100.5" y="339.69" width="15.2" height="1.17" fill="#d9303a"/><rect x="100.5" y="342.03" width="15.2" height="1.17" fill="#d9303a"/><rect x="100.5" y="328" width="7.6" height="7.6" fill="#2f4a8f"/><circle cx="108.1" cy="335.6" r="7.6" fill="url(#gloss)"/></g><circle cx="108.1" cy="335.6" r="7.2" fill="none" stroke="rgba(0,0,0,0.18)" stroke-width="0.7"/>
<g clip-path="url(#c23)"><rect x="187.8" y="328" width="15.2" height="1.17" fill="#d9303a"/><rect x="187.8" y="330.34" width="15.2" height="1.17" fill="#d9303a"/><rect x="187.8" y="332.68" width="15.2" height="1.17" fill="#d9303a"/><rect x="187.8" y="335.02" width="15.2" height="1.17" fill="#d9303a"/><rect x="187.8" y="337.35" width="15.2" height="1.17" fill="#d9303a"/><rect x="187.8" y="339.69" width="15.2" height="1.17" fill="#d9303a"/><rect x="187.8" y="342.03" width="15.2" height="1.17" fill="#d9303a"/><rect x="187.8" y="328" width="7.6" height="7.6" fill="#2f4a8f"/><circle cx="195.4" cy="335.6" r="7.6" fill="url(#gloss)"/></g><circle cx="195.4" cy="335.6" r="7.2" fill="none" stroke="rgba(0,0,0,0.18)" stroke-width="0.7"/>
<g clip-path="url(#c24)"><rect x="274.8" y="328" width="15.2" height="1.17" fill="#d9303a"/><rect x="274.8" y="330.34" width="15.2" height="1.17" fill="#d9303a"/><rect x="274.8" y="332.68" width="15.2" height="1.17" fill="#d9303a"/><rect x="274.8" y="335.02" width="15.2" height="1.17" fill="#d9303a"/><rect x="274.8" y="337.35" width="15.2" height="1.17" fill="#d9303a"/><rect x="274.8" y="339.69" width="15.2" height="1.17" fill="#d9303a"/><rect x="274.8" y="342.03" width="15.2" height="1.17" fill="#d9303a"/><rect x="274.8" y="328" width="7.6" height="7.6" fill="#2f4a8f"/><circle cx="282.4" cy="335.6" r="7.6" fill="url(#gloss)"/></g><circle cx="282.4" cy="335.6" r="7.2" fill="none" stroke="rgba(0,0,0,0.18)" stroke-width="0.7"/>
<g clip-path="url(#c25)"><rect x="362" y="329.4" width="15.2" height="1.17" fill="#d9303a"/><rect x="362" y="331.74" width="15.2" height="1.17" fill="#d9303a"/><rect x="362" y="334.08" width="15.2" height="1.17" fill="#d9303a"/><rect x="362" y="336.42" width="15.2" height="1.17" fill="#d9303a"/><rect x="362" y="338.75" width="15.2" height="1.17" fill="#d9303a"/><rect x="362" y="341.09" width="15.2" height="1.17" fill="#d9303a"/><rect x="362" y="343.43" width="15.2" height="1.17" fill="#d9303a"/><rect x="362" y="329.4" width="7.6" height="7.6" fill="#2f4a8f"/><circle cx="369.6" cy="337" r="7.6" fill="url(#gloss)"/></g><circle cx="369.6" cy="337" r="7.2" fill="none" stroke="rgba(0,0,0,0.18)" stroke-width="0.7"/>
<text transform="translate(19 359.46) scale(1 1.24)" font-size="7.8" text-anchor="start" fill="#44546a" font-weight="normal" textLength="35.4" lengthAdjust="spacingAndGlyphs" stroke="#44546a" stroke-width="0.15">Reference</text>
<text transform="translate(108.6 358.46) scale(0.92 1.24)" font-size="7.8" text-anchor="middle" fill="#595959" font-weight="normal" stroke="#595959" stroke-width="0.15">[56]</text>
<text transform="translate(196.6 358.46) scale(0.92 1.24)" font-size="7.8" text-anchor="middle" fill="#595959" font-weight="normal" stroke="#595959" stroke-width="0.15">[50]</text>
<text transform="translate(282.4 358.46) scale(0.92 1.24)" font-size="7.8" text-anchor="middle" fill="#595959" font-weight="normal" stroke="#595959" stroke-width="0.15">[49]</text>
<text transform="translate(368.4 358.46) scale(0.92 1.24)" font-size="7.8" text-anchor="middle" fill="#595959" font-weight="normal" stroke="#595959" stroke-width="0.15">[28]</text>
<text transform="translate(19 380.86) scale(1 1.24)" font-size="7.8" text-anchor="start" fill="#3f3f3f" font-weight="normal" textLength="42" lengthAdjust="spacingAndGlyphs" stroke="#3f3f3f" stroke-width="0.15">Baseline (%)</text>
<text transform="translate(108.6 379.66) scale(0.92 1.24)" font-size="7.8" text-anchor="middle" fill="#2a2a2a" font-weight="normal" stroke="#2a2a2a" stroke-width="0.15">7.9</text>
<text transform="translate(196.6 379.66) scale(0.92 1.24)" font-size="7.8" text-anchor="middle" fill="#2a2a2a" font-weight="normal" stroke="#2a2a2a" stroke-width="0.15">7.8</text>
<text transform="translate(282.4 379.66) scale(0.92 1.24)" font-size="7.8" text-anchor="middle" fill="#2a2a2a" font-weight="normal" stroke="#2a2a2a" stroke-width="0.15">8.7</text>
<text transform="translate(368.4 379.66) scale(0.92 1.24)" font-size="7.8" text-anchor="middle" fill="#2a2a2a" font-weight="normal" stroke="#2a2a2a" stroke-width="0.15">8.1</text>
<line x1="67.7" y1="403.65" x2="411.6" y2="403.65" stroke="#c4c4c4" stroke-width="0.8" stroke-dasharray="1.6 1.2"/>
<line x1="67.7" y1="420.3" x2="411.6" y2="420.3" stroke="#c4c4c4" stroke-width="0.8" stroke-dasharray="1.6 1.2"/>
<line x1="67.7" y1="436.95" x2="411.6" y2="436.95" stroke="#c4c4c4" stroke-width="0.8" stroke-dasharray="1.6 1.2"/>
<line x1="67.7" y1="453.6" x2="411.6" y2="453.6" stroke="#c4c4c4" stroke-width="0.8" stroke-dasharray="1.6 1.2"/>
<line x1="67.7" y1="470.25" x2="411.6" y2="470.25" stroke="#c4c4c4" stroke-width="0.8" stroke-dasharray="1.6 1.2"/>
<line x1="67.7" y1="486.9" x2="411.6" y2="486.9" stroke="#c4c4c4" stroke-width="0.8" stroke-dasharray="1.6 1.2"/>
<line x1="67.7" y1="503.55" x2="411.6" y2="503.55" stroke="#c4c4c4" stroke-width="0.8" stroke-dasharray="1.6 1.2"/>
<line x1="67.7" y1="520.2" x2="411.6" y2="520.2" stroke="#c4c4c4" stroke-width="0.8" stroke-dasharray="1.6 1.2"/>
<line x1="67.7" y1="536.85" x2="411.6" y2="536.85" stroke="#c4c4c4" stroke-width="0.8" stroke-dasharray="1.6 1.2"/>
<line x1="67.7" y1="553.5" x2="411.6" y2="553.5" stroke="#c4c4c4" stroke-width="0.8" stroke-dasharray="1.6 1.2"/>
<line x1="67.7" y1="387" x2="411.6" y2="387" stroke="#9a9a9a" stroke-width="1.3"/>
<line x1="67.7" y1="387" x2="67.7" y2="553.5" stroke="#9c9c9c" stroke-width="1"/>
<text transform="translate(60.2 389.87) scale(1 1.24)" font-size="7.6" text-anchor="end" fill="#262626" font-weight="normal" stroke="#262626" stroke-width="0.15">0</text>
<text transform="translate(60.2 406.92) scale(1 1.24)" font-size="7.6" text-anchor="end" fill="#262626" font-weight="normal" stroke="#262626" stroke-width="0.15">-0.2</text>
<text transform="translate(60.2 423.57) scale(1 1.24)" font-size="7.6" text-anchor="end" fill="#262626" font-weight="normal" stroke="#262626" stroke-width="0.15">-0.4</text>
<text transform="translate(60.2 440.22) scale(1 1.24)" font-size="7.6" text-anchor="end" fill="#262626" font-weight="normal" stroke="#262626" stroke-width="0.15">-0.6</text>
<text transform="translate(60.2 456.87) scale(1 1.24)" font-size="7.6" text-anchor="end" fill="#262626" font-weight="normal" stroke="#262626" stroke-width="0.15">-0.8</text>
<text transform="translate(60.2 473.52) scale(1 1.24)" font-size="7.6" text-anchor="end" fill="#262626" font-weight="normal" stroke="#262626" stroke-width="0.15">-1</text>
<text transform="translate(60.2 490.17) scale(1 1.24)" font-size="7.6" text-anchor="end" fill="#262626" font-weight="normal" stroke="#262626" stroke-width="0.15">-1.2</text>
<text transform="translate(60.2 506.82) scale(1 1.24)" font-size="7.6" text-anchor="end" fill="#262626" font-weight="normal" stroke="#262626" stroke-width="0.15">-1.4</text>
<text transform="translate(60.2 523.47) scale(1 1.24)" font-size="7.6" text-anchor="end" fill="#262626" font-weight="normal" stroke="#262626" stroke-width="0.15">-1.6</text>
<text transform="translate(60.2 540.12) scale(1 1.24)" font-size="7.6" text-anchor="end" fill="#262626" font-weight="normal" stroke="#262626" stroke-width="0.15">-1.8</text>
<text transform="translate(60.2 556.77) scale(1 1.24)" font-size="7.6" text-anchor="end" fill="#262626" font-weight="normal" stroke="#262626" stroke-width="0.15">-2</text>
<line x1="63.4" y1="453.6" x2="414" y2="453.6" stroke="#d98a8a" stroke-width="1.5" stroke-dasharray="3.6 2.6"/>
<line x1="63.4" y1="536.85" x2="415" y2="536.85" stroke="#d27a7a" stroke-width="1.5" stroke-dasharray="3.6 2.6"/>
<rect x="97.55" y="387" width="26.5" height="78.75" fill="#0b1f5e"/>
<text transform="translate(110.8 479.62) scale(0.97 1.24)" font-size="7.8" text-anchor="middle" fill="#4a4a4a" font-weight="normal" stroke="#4a4a4a" stroke-width="0.15">-1.0</text>
<rect x="183.45" y="387" width="26.5" height="82.42" fill="#0b1f5e"/>
<text transform="translate(196.7 483.28) scale(0.97 1.24)" font-size="7.8" text-anchor="middle" fill="#4a4a4a" font-weight="normal" stroke="#4a4a4a" stroke-width="0.15">-1.0</text>
<rect x="269.75" y="387" width="26.5" height="78.25" fill="#0b1f5e"/>
<text transform="translate(283 479.12) scale(0.97 1.24)" font-size="7.8" text-anchor="middle" fill="#4a4a4a" font-weight="normal" stroke="#4a4a4a" stroke-width="0.15">-0.9</text>
<rect x="355.25" y="387" width="26.5" height="66.6" fill="#0b1f5e"/>
<text transform="translate(368.5 467.46) scale(0.97 1.24)" font-size="7.8" text-anchor="middle" fill="#4a4a4a" font-weight="normal" stroke="#4a4a4a" stroke-width="0.15">-0.8</text>
<rect x="414" y="445.6" width="32.6" height="16.8" fill="#fbe3d3" stroke="#a8a8a8" stroke-width="0.9"/>
<text transform="translate(430.3 457.37) scale(0.92 1.24)" font-size="7.6" text-anchor="middle" fill="#1a1a1a" font-weight="bold" stroke="#1a1a1a" stroke-width="0.15">-0.8%</text>
<rect x="415" y="529" width="32.6" height="16" fill="#fbe3d3" stroke="#a8a8a8" stroke-width="0.9"/>
<text transform="translate(431.3 540.37) scale(0.92 1.24)" font-size="7.6" text-anchor="middle" fill="#1a1a1a" font-weight="bold" stroke="#1a1a1a" stroke-width="0.15">-1.8%</text>
<text transform="translate(36.5 461.8) rotate(-90)" x="0" y="2.94" font-size="8.2" font-weight="bold" fill="#1a1a1a" stroke="#1a1a1a" stroke-width="0.15" text-anchor="middle" textLength="71" lengthAdjust="spacingAndGlyphs">HbA<tspan font-size="4.92" dy="1.5">1c</tspan><tspan dy="-1.5"> reduction (%)</tspan></text>
<text transform="translate(466 494.4) rotate(90)" x="0" y="3.01" font-size="8.4" font-weight="bold" fill="#1a1a1a" stroke="#1a1a1a" stroke-width="0.15" text-anchor="middle" textLength="101.5" lengthAdjust="spacingAndGlyphs">HbA<tspan font-size="5.04" dy="1.5">1c</tspan><tspan dy="-1.5"> reduction observed in</tspan></text>
<text transform="translate(455.6 494.4) rotate(90)" x="0" y="3.01" font-size="8.4" font-weight="bold" fill="#1a1a1a" stroke="#1a1a1a" stroke-width="0.15" text-anchor="middle" textLength="45.3" lengthAdjust="spacingAndGlyphs">clinical trials<tspan font-size="5.04" dy="-2.5">a</tspan></text>
<text transform="translate(3.6 568.26) scale(1 1.24)" font-size="7.8" text-anchor="start" fill="#333333" font-weight="normal" textLength="45" lengthAdjust="spacingAndGlyphs" stroke="#333333" stroke-width="0.15">Duration (m)</text>
<text transform="translate(105 568.26) scale(0.92 1.24)" font-size="7.8" text-anchor="middle" fill="#333333" font-weight="normal" stroke="#333333" stroke-width="0.15">6</text>
<text transform="translate(199.8 568.26) scale(0.92 1.24)" font-size="7.8" text-anchor="middle" fill="#333333" font-weight="normal" stroke="#333333" stroke-width="0.15">6</text>
<text transform="translate(284.6 568.26) scale(0.92 1.24)" font-size="7.8" text-anchor="middle" fill="#333333" font-weight="normal" stroke="#333333" stroke-width="0.15">6</text>
<text transform="translate(369.4 568.26) scale(0.92 1.24)" font-size="7.8" text-anchor="middle" fill="#333333" font-weight="normal" stroke="#333333" stroke-width="0.15">12</text>
<text transform="translate(43 584.36) scale(1 1.24)" font-size="7.8" text-anchor="start" fill="#333333" font-weight="normal" textLength="5.6" lengthAdjust="spacingAndGlyphs" stroke="#333333" stroke-width="0.15">N</text>
<text transform="translate(105 584.36) scale(0.92 1.24)" font-size="7.8" text-anchor="middle" fill="#333333" font-weight="normal" stroke="#333333" stroke-width="0.15">376</text>
<text transform="translate(199.8 584.36) scale(0.92 1.24)" font-size="7.8" text-anchor="middle" fill="#333333" font-weight="normal" stroke="#333333" stroke-width="0.15">234</text>
<text transform="translate(284.6 584.36) scale(0.92 1.24)" font-size="7.8" text-anchor="middle" fill="#333333" font-weight="normal" stroke="#333333" stroke-width="0.15">3005</text>
<text transform="translate(369.4 584.36) scale(0.92 1.24)" font-size="7.8" text-anchor="middle" fill="#333333" font-weight="normal" stroke="#333333" stroke-width="0.15">1321</text>
<text transform="translate(0.3 620.6) scale(1 0.9)" font-family='&quot;Liberation Serif&quot;, serif' font-size="18" font-weight="bold" fill="#111">(c)</text>
<g clip-path="url(#c26)"><rect x="64.1" y="613.2" width="16" height="5.33" fill="#f3b878"/><rect x="64.1" y="618.53" width="16" height="5.33" fill="#ffffff"/><rect x="64.1" y="623.87" width="16" height="5.33" fill="#2c9a3a"/><circle cx="72.1" cy="621.2" r="1.6" fill="none" stroke="#4a5aa8" stroke-width="0.8"/><circle cx="72.1" cy="621.2" r="8" fill="url(#gloss)"/></g><circle cx="72.1" cy="621.2" r="7.6" fill="none" stroke="#bdbdbd" stroke-width="0.7"/>
<g clip-path="url(#c27)"><rect x="109.4" y="613.2" width="16" height="5.33" fill="#f3b878"/><rect x="109.4" y="618.53" width="16" height="5.33" fill="#ffffff"/><rect x="109.4" y="623.87" width="16" height="5.33" fill="#2c9a3a"/><circle cx="117.4" cy="621.2" r="1.6" fill="none" stroke="#4a5aa8" stroke-width="0.8"/><circle cx="117.4" cy="621.2" r="8" fill="url(#gloss)"/></g><circle cx="117.4" cy="621.2" r="7.6" fill="none" stroke="#bdbdbd" stroke-width="0.7"/>
<g clip-path="url(#c28)"><rect x="154.6" y="613.2" width="16" height="5.33" fill="#f3b878"/><rect x="154.6" y="618.53" width="16" height="5.33" fill="#ffffff"/><rect x="154.6" y="623.87" width="16" height="5.33" fill="#2c9a3a"/><circle cx="162.6" cy="621.2" r="1.6" fill="none" stroke="#4a5aa8" stroke-width="0.8"/><circle cx="162.6" cy="621.2" r="8" fill="url(#gloss)"/></g><circle cx="162.6" cy="621.2" r="7.6" fill="none" stroke="#bdbdbd" stroke-width="0.7"/>
<g clip-path="url(#c29)"><rect x="202.4" y="613.2" width="16" height="5.33" fill="#f3b878"/><rect x="202.4" y="618.53" width="16" height="5.33" fill="#ffffff"/><rect x="202.4" y="623.87" width="16" height="5.33" fill="#2c9a3a"/><circle cx="210.4" cy="621.2" r="1.6" fill="none" stroke="#4a5aa8" stroke-width="0.8"/><circle cx="210.4" cy="621.2" r="8" fill="url(#gloss)"/></g><circle cx="210.4" cy="621.2" r="7.6" fill="none" stroke="#bdbdbd" stroke-width="0.7"/>
<g clip-path="url(#c30)"><rect x="244.3" y="613.2" width="16" height="16" fill="#ffffff"/><rect x="244.3" y="615.44" width="16" height="2.08" fill="#2a4fb0"/><rect x="244.3" y="624.88" width="16" height="2.08" fill="#2a4fb0"/><path d="M252.3 618.5l2.4 4.1h-4.8zM252.3 623.9l2.4 -4.1h-4.8z" fill="none" stroke="#2a4fb0" stroke-width="0.7"/><circle cx="252.3" cy="621.2" r="8" fill="url(#gloss)"/></g><circle cx="252.3" cy="621.2" r="7.6" fill="none" stroke="#bdbdbd" stroke-width="0.7"/>
<g clip-path="url(#c31)"><rect x="288.5" y="613.2" width="16" height="16" fill="#d6d6d6"/><circle cx="296.5" cy="621.2" r="6.2" fill="#ffffff"/><circle cx="296.5" cy="621.2" r="4.4" fill="#e5202e"/><circle cx="296.5" cy="621.2" r="8" fill="url(#gloss)"/></g><circle cx="296.5" cy="621.2" r="7.6" fill="none" stroke="#bdbdbd" stroke-width="1.2"/>
<g clip-path="url(#c32)"><rect x="336.4" y="613.2" width="16" height="16" fill="#d6d6d6"/><circle cx="344.4" cy="621.2" r="6.2" fill="#ffffff"/><circle cx="344.4" cy="621.2" r="4.4" fill="#e5202e"/><circle cx="344.4" cy="621.2" r="8" fill="url(#gloss)"/></g><circle cx="344.4" cy="621.2" r="7.6" fill="none" stroke="#bdbdbd" stroke-width="1.2"/>
<g clip-path="url(#c33)"><rect x="382" y="613.2" width="16" height="16" fill="#d6d6d6"/><circle cx="390" cy="621.2" r="6.2" fill="#ffffff"/><circle cx="390" cy="621.2" r="4.4" fill="#e5202e"/><circle cx="390" cy="621.2" r="8" fill="url(#gloss)"/></g><circle cx="390" cy="621.2" r="7.6" fill="none" stroke="#bdbdbd" stroke-width="1.2"/>
<g clip-path="url(#c34)"><rect x="427.4" y="613.2" width="16" height="16" fill="#d6d6d6"/><circle cx="435.4" cy="621.2" r="6.2" fill="#ffffff"/><circle cx="435.4" cy="621.2" r="4.4" fill="#e5202e"/><circle cx="435.4" cy="621.2" r="8" fill="url(#gloss)"/></g><circle cx="435.4" cy="621.2" r="7.6" fill="none" stroke="#bdbdbd" stroke-width="1.2"/>
<g clip-path="url(#c35)"><rect x="471.6" y="613.2" width="16" height="16" fill="#d6d6d6"/><circle cx="479.6" cy="621.2" r="6.2" fill="#ffffff"/><circle cx="479.6" cy="621.2" r="4.4" fill="#e5202e"/><circle cx="479.6" cy="621.2" r="8" fill="url(#gloss)"/></g><circle cx="479.6" cy="621.2" r="7.6" fill="none" stroke="#bdbdbd" stroke-width="1.2"/>
<g clip-path="url(#c36)"><rect x="516" y="613.2" width="16" height="16" fill="#d6d6d6"/><circle cx="524" cy="621.2" r="6.2" fill="#ffffff"/><circle cx="524" cy="621.2" r="4.4" fill="#e5202e"/><circle cx="524" cy="621.2" r="8" fill="url(#gloss)"/></g><circle cx="524" cy="621.2" r="7.6" fill="none" stroke="#bdbdbd" stroke-width="1.2"/>
<g clip-path="url(#c37)"><rect x="561.3" y="613.2" width="16" height="5.33" fill="#2a9a44"/><rect x="561.3" y="618.53" width="16" height="5.33" fill="#ffffff"/><rect x="561.3" y="623.87" width="16" height="5.33" fill="#111111"/><rect x="561.3" y="613.2" width="4.32" height="16" fill="#e0202a"/><circle cx="569.3" cy="621.2" r="8" fill="url(#gloss)"/></g><circle cx="569.3" cy="621.2" r="7.6" fill="none" stroke="rgba(0,0,0,0.18)" stroke-width="0.7"/>
<g clip-path="url(#c38)"><rect x="607" y="613.2" width="16" height="5.33" fill="#2a9a44"/><rect x="607" y="618.53" width="16" height="5.33" fill="#ffffff"/><rect x="607" y="623.87" width="16" height="5.33" fill="#111111"/><rect x="607" y="613.2" width="4.32" height="16" fill="#e0202a"/><circle cx="615" cy="621.2" r="8" fill="url(#gloss)"/></g><circle cx="615" cy="621.2" r="7.6" fill="none" stroke="rgba(0,0,0,0.18)" stroke-width="0.7"/>
<text transform="translate(9.6 639.66) scale(1 1.24)" font-size="7.8" text-anchor="start" fill="#44546a" font-weight="normal" textLength="36" lengthAdjust="spacingAndGlyphs" stroke="#44546a" stroke-width="0.15">Reference</text>
<text transform="translate(72.4 639.36) scale(0.92 1.24)" font-size="7.8" text-anchor="middle" fill="#595959" font-weight="normal" stroke="#595959" stroke-width="0.15">[67]</text>
<text transform="translate(117.6 639.36) scale(0.92 1.24)" font-size="7.8" text-anchor="middle" fill="#595959" font-weight="normal" stroke="#595959" stroke-width="0.15">[52]</text>
<text transform="translate(162.4 639.36) scale(0.92 1.24)" font-size="7.8" text-anchor="middle" fill="#595959" font-weight="normal" stroke="#595959" stroke-width="0.15">[53]</text>
<text transform="translate(210 639.36) scale(0.92 1.24)" font-size="7.8" text-anchor="middle" fill="#595959" font-weight="normal" stroke="#595959" stroke-width="0.15">[62]</text>
<text transform="translate(252.4 639.36) scale(0.92 1.24)" font-size="7.8" text-anchor="middle" fill="#595959" font-weight="normal" stroke="#595959" stroke-width="0.15">[80]</text>
<text transform="translate(297.4 639.36) scale(0.92 1.24)" font-size="7.8" text-anchor="middle" fill="#595959" font-weight="normal" stroke="#595959" stroke-width="0.15">[38]</text>
<text transform="translate(344.6 639.36) scale(0.92 1.24)" font-size="7.8" text-anchor="middle" fill="#595959" font-weight="normal" stroke="#595959" stroke-width="0.15">[66]</text>
<text transform="translate(390 639.36) scale(0.92 1.24)" font-size="7.8" text-anchor="middle" fill="#595959" font-weight="normal" stroke="#595959" stroke-width="0.15">[54]</text>
<text transform="translate(434.6 639.36) scale(0.92 1.24)" font-size="7.8" text-anchor="middle" fill="#595959" font-weight="normal" stroke="#595959" stroke-width="0.15">[55]</text>
<text transform="translate(479.6 639.36) scale(0.92 1.24)" font-size="7.8" text-anchor="middle" fill="#595959" font-weight="normal" stroke="#595959" stroke-width="0.15">[40]</text>
<text transform="translate(524.4 639.36) scale(0.92 1.24)" font-size="7.8" text-anchor="middle" fill="#595959" font-weight="normal" stroke="#595959" stroke-width="0.15">[70]</text>
<text transform="translate(569.6 639.36) scale(0.92 1.24)" font-size="7.8" text-anchor="middle" fill="#595959" font-weight="normal" stroke="#595959" stroke-width="0.15">[48]</text>
<text transform="translate(614.6 639.36) scale(0.92 1.24)" font-size="7.8" text-anchor="middle" fill="#595959" font-weight="normal" stroke="#595959" stroke-width="0.15">[37]</text>
<text transform="translate(8.6 660.76) scale(1 1.24)" font-size="7.8" text-anchor="start" fill="#3f3f3f" font-weight="normal" textLength="42.4" lengthAdjust="spacingAndGlyphs" stroke="#3f3f3f" stroke-width="0.15">Baseline (%)</text>
<text transform="translate(72.4 661.46) scale(0.92 1.24)" font-size="7.8" text-anchor="middle" fill="#2a2a2a" font-weight="normal" stroke="#2a2a2a" stroke-width="0.15">9.2</text>
<text transform="translate(117.6 661.46) scale(0.92 1.24)" font-size="7.8" text-anchor="middle" fill="#2a2a2a" font-weight="normal" stroke="#2a2a2a" stroke-width="0.15">8.1</text>
<text transform="translate(162.4 661.46) scale(0.92 1.24)" font-size="7.8" text-anchor="middle" fill="#2a2a2a" font-weight="normal" stroke="#2a2a2a" stroke-width="0.15">7.8</text>
<text transform="translate(210 661.46) scale(0.92 1.24)" font-size="7.8" text-anchor="middle" fill="#2a2a2a" font-weight="normal" stroke="#2a2a2a" stroke-width="0.15">7.8</text>
<text transform="translate(252.4 661.46) scale(0.92 1.24)" font-size="7.8" text-anchor="middle" fill="#2a2a2a" font-weight="normal" stroke="#2a2a2a" stroke-width="0.15">8.7</text>
<text transform="translate(297.4 661.46) scale(0.92 1.24)" font-size="7.8" text-anchor="middle" fill="#2a2a2a" font-weight="normal" stroke="#2a2a2a" stroke-width="0.15">8.5</text>
<text transform="translate(344.6 661.46) scale(0.92 1.24)" font-size="7.8" text-anchor="middle" fill="#2a2a2a" font-weight="normal" stroke="#2a2a2a" stroke-width="0.15">8.7</text>
<text transform="translate(390 661.46) scale(0.92 1.24)" font-size="7.8" text-anchor="middle" fill="#2a2a2a" font-weight="normal" stroke="#2a2a2a" stroke-width="0.15">7.5</text>
<text transform="translate(434.6 661.46) scale(0.92 1.24)" font-size="7.8" text-anchor="middle" fill="#2a2a2a" font-weight="normal" stroke="#2a2a2a" stroke-width="0.15">7.5</text>
<text transform="translate(479.6 661.46) scale(0.92 1.24)" font-size="7.8" text-anchor="middle" fill="#2a2a2a" font-weight="normal" stroke="#2a2a2a" stroke-width="0.15">8.4</text>
<text transform="translate(524.4 661.46) scale(0.92 1.24)" font-size="7.8" text-anchor="middle" fill="#2a2a2a" font-weight="normal" stroke="#2a2a2a" stroke-width="0.15">7.7</text>
<text transform="translate(569.6 661.46) scale(0.92 1.24)" font-size="7.8" text-anchor="middle" fill="#2a2a2a" font-weight="normal" stroke="#2a2a2a" stroke-width="0.15">8.3</text>
<text transform="translate(614.6 661.46) scale(0.92 1.24)" font-size="7.8" text-anchor="middle" fill="#2a2a2a" font-weight="normal" stroke="#2a2a2a" stroke-width="0.15">8.7</text>
<line x1="52.4" y1="683.1" x2="637" y2="683.1" stroke="#c4c4c4" stroke-width="0.8" stroke-dasharray="1.6 1.2"/>
<line x1="52.4" y1="697.2" x2="637" y2="697.2" stroke="#c4c4c4" stroke-width="0.8" stroke-dasharray="1.6 1.2"/>
<line x1="52.4" y1="711.3" x2="637" y2="711.3" stroke="#c4c4c4" stroke-width="0.8" stroke-dasharray="1.6 1.2"/>
<line x1="52.4" y1="725.4" x2="637" y2="725.4" stroke="#c4c4c4" stroke-width="0.8" stroke-dasharray="1.6 1.2"/>
<line x1="52.4" y1="739.5" x2="637" y2="739.5" stroke="#c4c4c4" stroke-width="0.8" stroke-dasharray="1.6 1.2"/>
<line x1="52.4" y1="753.6" x2="637" y2="753.6" stroke="#c4c4c4" stroke-width="0.8" stroke-dasharray="1.6 1.2"/>
<line x1="52.4" y1="767.7" x2="637" y2="767.7" stroke="#c4c4c4" stroke-width="0.8" stroke-dasharray="1.6 1.2"/>
<line x1="52.4" y1="781.8" x2="637" y2="781.8" stroke="#c4c4c4" stroke-width="0.8" stroke-dasharray="1.6 1.2"/>
<line x1="52.4" y1="795.9" x2="637" y2="795.9" stroke="#c4c4c4" stroke-width="0.8" stroke-dasharray="1.6 1.2"/>
<line x1="52.4" y1="810" x2="637" y2="810" stroke="#c4c4c4" stroke-width="0.8" stroke-dasharray="1.6 1.2"/>
<line x1="52.4" y1="824.1" x2="637" y2="824.1" stroke="#c4c4c4" stroke-width="0.8" stroke-dasharray="1.6 1.2"/>
<line x1="52.4" y1="838.2" x2="637" y2="838.2" stroke="#c4c4c4" stroke-width="0.8" stroke-dasharray="1.6 1.2"/>
<line x1="52.4" y1="852.3" x2="637" y2="852.3" stroke="#c4c4c4" stroke-width="0.8" stroke-dasharray="1.6 1.2"/>
<line x1="52.4" y1="669" x2="637" y2="669" stroke="#bdbdbd" stroke-width="1.1"/>
<line x1="52.4" y1="669" x2="52.4" y2="852.3" stroke="#c8c8c8" stroke-width="1"/>
<text transform="translate(43.8 671.87) scale(1 1.24)" font-size="7.6" text-anchor="end" fill="#262626" font-weight="normal" stroke="#262626" stroke-width="0.15">0</text>
<text transform="translate(43.8 686.37) scale(1 1.24)" font-size="7.6" text-anchor="end" fill="#262626" font-weight="normal" stroke="#262626" stroke-width="0.15">-0.2</text>
<text transform="translate(43.8 700.47) scale(1 1.24)" font-size="7.6" text-anchor="end" fill="#262626" font-weight="normal" stroke="#262626" stroke-width="0.15">-0.4</text>
<text transform="translate(43.8 714.57) scale(1 1.24)" font-size="7.6" text-anchor="end" fill="#262626" font-weight="normal" stroke="#262626" stroke-width="0.15">-0.6</text>
<text transform="translate(43.8 728.67) scale(1 1.24)" font-size="7.6" text-anchor="end" fill="#262626" font-weight="normal" stroke="#262626" stroke-width="0.15">-0.8</text>
<text transform="translate(43.8 742.77) scale(1 1.24)" font-size="7.6" text-anchor="end" fill="#262626" font-weight="normal" stroke="#262626" stroke-width="0.15">-1</text>
<text transform="translate(43.8 756.87) scale(1 1.24)" font-size="7.6" text-anchor="end" fill="#262626" font-weight="normal" stroke="#262626" stroke-width="0.15">-1.2</text>
<text transform="translate(43.8 770.97) scale(1 1.24)" font-size="7.6" text-anchor="end" fill="#262626" font-weight="normal" stroke="#262626" stroke-width="0.15">-1.4</text>
<text transform="translate(43.8 785.07) scale(1 1.24)" font-size="7.6" text-anchor="end" fill="#262626" font-weight="normal" stroke="#262626" stroke-width="0.15">-1.6</text>
<text transform="translate(43.8 799.17) scale(1 1.24)" font-size="7.6" text-anchor="end" fill="#262626" font-weight="normal" stroke="#262626" stroke-width="0.15">-1.8</text>
<text transform="translate(43.8 813.27) scale(1 1.24)" font-size="7.6" text-anchor="end" fill="#262626" font-weight="normal" stroke="#262626" stroke-width="0.15">-2</text>
<text transform="translate(43.8 827.37) scale(1 1.24)" font-size="7.6" text-anchor="end" fill="#262626" font-weight="normal" stroke="#262626" stroke-width="0.15">-2.2</text>
<text transform="translate(43.8 841.47) scale(1 1.24)" font-size="7.6" text-anchor="end" fill="#262626" font-weight="normal" stroke="#262626" stroke-width="0.15">-2.4</text>
<text transform="translate(43.8 855.57) scale(1 1.24)" font-size="7.6" text-anchor="end" fill="#262626" font-weight="normal" stroke="#262626" stroke-width="0.15">-2.6</text>
<line x1="47.2" y1="725.4" x2="629" y2="725.4" stroke="#d05a5a" stroke-width="1.1" stroke-dasharray="3.8 2.4"/>
<line x1="44.5" y1="795.9" x2="629" y2="795.9" stroke="#cc4444" stroke-width="1.15" stroke-dasharray="3.8 2.4"/>
<rect x="67.6" y="669" width="14" height="109.63" fill="#0b1f5e"/>
<text transform="translate(74.6 791.15) scale(0.97 1.24)" font-size="6.8" text-anchor="middle" fill="#4a4a4a" font-weight="normal" stroke="#4a4a4a" stroke-width="0.15">-1.6</text>
<rect x="112.62" y="669" width="14" height="83.19" fill="#0b1f5e"/>
<text transform="translate(119.62 764.71) scale(0.97 1.24)" font-size="6.8" text-anchor="middle" fill="#4a4a4a" font-weight="normal" stroke="#4a4a4a" stroke-width="0.15">-1.2</text>
<rect x="157.64" y="669" width="14" height="159.61" fill="#0b1f5e"/>
<text transform="translate(164.64 841.13) scale(0.97 1.24)" font-size="6.8" text-anchor="middle" fill="#4a4a4a" font-weight="normal" stroke="#4a4a4a" stroke-width="0.15">-2.3</text>
<rect x="202.66" y="669" width="14" height="42.3" fill="#0b1f5e"/>
<text transform="translate(209.66 723.82) scale(0.97 1.24)" font-size="6.8" text-anchor="middle" fill="#4a4a4a" font-weight="normal" stroke="#4a4a4a" stroke-width="0.15">-0.6</text>
<rect x="247.68" y="669" width="14" height="56.4" fill="#0b1f5e"/>
<text transform="translate(254.68 737.92) scale(0.97 1.24)" font-size="6.8" text-anchor="middle" fill="#4a4a4a" font-weight="normal" stroke="#4a4a4a" stroke-width="0.15">-0.8</text>
<rect x="292.7" y="669" width="14" height="56.4" fill="#0b1f5e"/>
<text transform="translate(299.7 737.92) scale(0.97 1.24)" font-size="6.8" text-anchor="middle" fill="#4a4a4a" font-weight="normal" stroke="#4a4a4a" stroke-width="0.15">-0.8</text>
<rect x="337.72" y="669" width="14" height="42.3" fill="#0b1f5e"/>
<text transform="translate(344.72 723.82) scale(0.97 1.24)" font-size="6.8" text-anchor="middle" fill="#4a4a4a" font-weight="normal" stroke="#4a4a4a" stroke-width="0.15">-0.6</text>
<rect x="382.74" y="669" width="14" height="49.77" fill="#0b1f5e"/>
<text transform="translate(389.74 731.29) scale(0.97 1.24)" font-size="6.8" text-anchor="middle" fill="#4a4a4a" font-weight="normal" stroke="#4a4a4a" stroke-width="0.15">-0.7</text>
<rect x="427.76" y="669" width="14" height="49.77" fill="#0b1f5e"/>
<text transform="translate(434.76 731.29) scale(0.97 1.24)" font-size="6.8" text-anchor="middle" fill="#4a4a4a" font-weight="normal" stroke="#4a4a4a" stroke-width="0.15">-0.7</text>
<rect x="472.78" y="669" width="14" height="84.6" fill="#0b1f5e"/>
<text transform="translate(479.78 766.12) scale(0.97 1.24)" font-size="6.8" text-anchor="middle" fill="#4a4a4a" font-weight="normal" stroke="#4a4a4a" stroke-width="0.15">-1.2</text>
<rect x="517.8" y="669" width="14" height="42.3" fill="#0b1f5e"/>
<text transform="translate(524.8 723.82) scale(0.97 1.24)" font-size="6.8" text-anchor="middle" fill="#4a4a4a" font-weight="normal" stroke="#4a4a4a" stroke-width="0.15">-0.6</text>
<rect x="562.82" y="669" width="14" height="49.77" fill="#0b1f5e"/>
<text transform="translate(569.82 731.29) scale(0.97 1.24)" font-size="6.8" text-anchor="middle" fill="#4a4a4a" font-weight="normal" stroke="#4a4a4a" stroke-width="0.15">-0.7</text>
<rect x="607.84" y="669" width="14" height="77.55" fill="#0b1f5e"/>
<text transform="translate(614.84 759.07) scale(0.97 1.24)" font-size="6.8" text-anchor="middle" fill="#4a4a4a" font-weight="normal" stroke="#4a4a4a" stroke-width="0.15">-1.1</text>
<rect x="629" y="717.6" width="33.4" height="16" fill="#fbe3d3" stroke="#a8a8a8" stroke-width="0.9"/>
<text transform="translate(645.7 728.97) scale(0.92 1.24)" font-size="7.6" text-anchor="middle" fill="#1a1a1a" font-weight="bold" stroke="#1a1a1a" stroke-width="0.15">-0.8%</text>
<rect x="629" y="788.4" width="33.4" height="16" fill="#fbe3d3" stroke="#a8a8a8" stroke-width="0.9"/>
<text transform="translate(645.7 799.77) scale(0.92 1.24)" font-size="7.6" text-anchor="middle" fill="#1a1a1a" font-weight="bold" stroke="#1a1a1a" stroke-width="0.15">-1.8%</text>
<text transform="translate(19.2 754.7) rotate(-90)" x="0" y="2.94" font-size="8.2" font-weight="bold" fill="#1a1a1a" stroke="#1a1a1a" stroke-width="0.15" text-anchor="middle" textLength="71.4" lengthAdjust="spacingAndGlyphs">HbA<tspan font-size="4.92" dy="1.5">1c</tspan><tspan dy="-1.5"> reduction (%)</tspan></text>
<text transform="translate(679.4 747.3) rotate(90)" x="0" y="3.01" font-size="8.4" font-weight="bold" fill="#1a1a1a" stroke="#1a1a1a" stroke-width="0.15" text-anchor="middle" textLength="101" lengthAdjust="spacingAndGlyphs">HbA<tspan font-size="5.04" dy="1.5">1c</tspan><tspan dy="-1.5"> reduction observed in</tspan></text>
<text transform="translate(668.7 747.3) rotate(90)" x="0" y="3.01" font-size="8.4" font-weight="bold" fill="#1a1a1a" stroke="#1a1a1a" stroke-width="0.15" text-anchor="middle" textLength="48.3" lengthAdjust="spacingAndGlyphs">clinical trials<tspan font-size="5.04" dy="-2.5">a</tspan></text>
<text transform="translate(3.6 874.46) scale(1 1.24)" font-size="7.8" text-anchor="start" fill="#333333" font-weight="normal" textLength="45.4" lengthAdjust="spacingAndGlyphs" stroke="#333333" stroke-width="0.15">Duration (m)</text>
<text transform="translate(74.4 874.46) scale(0.92 1.24)" font-size="7.8" text-anchor="middle" fill="#333333" font-weight="normal" stroke="#333333" stroke-width="0.15">3</text>
<text transform="translate(121.4 874.46) scale(0.92 1.24)" font-size="7.8" text-anchor="middle" fill="#333333" font-weight="normal" stroke="#333333" stroke-width="0.15">6</text>
<text transform="translate(165.6 874.46) scale(0.92 1.24)" font-size="7.8" text-anchor="middle" fill="#333333" font-weight="normal" stroke="#333333" stroke-width="0.15">6</text>
<text transform="translate(206.6 874.46) scale(0.92 1.24)" font-size="7.8" text-anchor="middle" fill="#333333" font-weight="normal" stroke="#333333" stroke-width="0.15">7.5</text>
<text transform="translate(253 874.46) scale(0.92 1.24)" font-size="7.8" text-anchor="middle" fill="#333333" font-weight="normal" stroke="#333333" stroke-width="0.15">6</text>
<text transform="translate(298 874.46) scale(0.92 1.24)" font-size="7.8" text-anchor="middle" fill="#333333" font-weight="normal" stroke="#333333" stroke-width="0.15">24</text>
<text transform="translate(341.6 874.46) scale(0.92 1.24)" font-size="7.8" text-anchor="middle" fill="#333333" font-weight="normal" stroke="#333333" stroke-width="0.15">1</text>
<text transform="translate(383.6 874.46) scale(0.92 1.24)" font-size="7.8" text-anchor="middle" fill="#333333" font-weight="normal" stroke="#333333" stroke-width="0.15">6</text>
<text transform="translate(429.6 874.46) scale(0.92 1.24)" font-size="7.8" text-anchor="middle" fill="#333333" font-weight="normal" stroke="#333333" stroke-width="0.15">6</text>
<text transform="translate(477 874.46) scale(0.92 1.24)" font-size="7.8" text-anchor="middle" fill="#333333" font-weight="normal" stroke="#333333" stroke-width="0.15">18</text>
<text transform="translate(524.6 874.46) scale(0.92 1.24)" font-size="7.8" text-anchor="middle" fill="#333333" font-weight="normal" stroke="#333333" stroke-width="0.15">3</text>
<text transform="translate(564 874.46) scale(0.92 1.24)" font-size="7.8" text-anchor="middle" fill="#333333" font-weight="normal" stroke="#333333" stroke-width="0.15">6</text>
<text transform="translate(611.6 874.46) scale(0.92 1.24)" font-size="7.8" text-anchor="middle" fill="#333333" font-weight="normal" stroke="#333333" stroke-width="0.15">12</text>
<text transform="translate(43.6 890.06) scale(1 1.24)" font-size="7.8" text-anchor="start" fill="#333333" font-weight="normal" textLength="5.4" lengthAdjust="spacingAndGlyphs" stroke="#333333" stroke-width="0.15">N</text>
<text transform="translate(74.4 890.06) scale(0.92 1.24)" font-size="7.8" text-anchor="middle" fill="#333333" font-weight="normal" stroke="#333333" stroke-width="0.15">196</text>
<text transform="translate(121.4 890.06) scale(0.92 1.24)" font-size="7.8" text-anchor="middle" fill="#333333" font-weight="normal" stroke="#333333" stroke-width="0.15">195</text>
<text transform="translate(165.6 890.06) scale(0.92 1.24)" font-size="7.8" text-anchor="middle" fill="#333333" font-weight="normal" stroke="#333333" stroke-width="0.15">14</text>
<text transform="translate(206.6 890.06) scale(0.92 1.24)" font-size="7.8" text-anchor="middle" fill="#333333" font-weight="normal" stroke="#333333" stroke-width="0.15">110</text>
<text transform="translate(253 890.06) scale(0.92 1.24)" font-size="7.8" text-anchor="middle" fill="#333333" font-weight="normal" stroke="#333333" stroke-width="0.15">933</text>
<text transform="translate(298 890.06) scale(0.92 1.24)" font-size="7.8" text-anchor="middle" fill="#333333" font-weight="normal" stroke="#333333" stroke-width="0.15">86</text>
<text transform="translate(341.6 890.06) scale(0.92 1.24)" font-size="7.8" text-anchor="middle" fill="#333333" font-weight="normal" stroke="#333333" stroke-width="0.15">16</text>
<text transform="translate(383.6 890.06) scale(0.92 1.24)" font-size="7.8" text-anchor="middle" fill="#333333" font-weight="normal" stroke="#333333" stroke-width="0.15">36</text>
<text transform="translate(429.6 890.06) scale(0.92 1.24)" font-size="7.8" text-anchor="middle" fill="#333333" font-weight="normal" stroke="#333333" stroke-width="0.15">73</text>
<text transform="translate(477 890.06) scale(0.92 1.24)" font-size="7.8" text-anchor="middle" fill="#333333" font-weight="normal" stroke="#333333" stroke-width="0.15">26</text>
<text transform="translate(524.6 890.06) scale(0.92 1.24)" font-size="7.8" text-anchor="middle" fill="#333333" font-weight="normal" stroke="#333333" stroke-width="0.15">147</text>
<text transform="translate(564 890.06) scale(0.92 1.24)" font-size="7.8" text-anchor="middle" fill="#333333" font-weight="normal" stroke="#333333" stroke-width="0.15">365</text>
<text transform="translate(611.6 890.06) scale(0.92 1.24)" font-size="7.8" text-anchor="middle" fill="#333333" font-weight="normal" stroke="#333333" stroke-width="0.15">152</text>
</svg>
</body></html>
